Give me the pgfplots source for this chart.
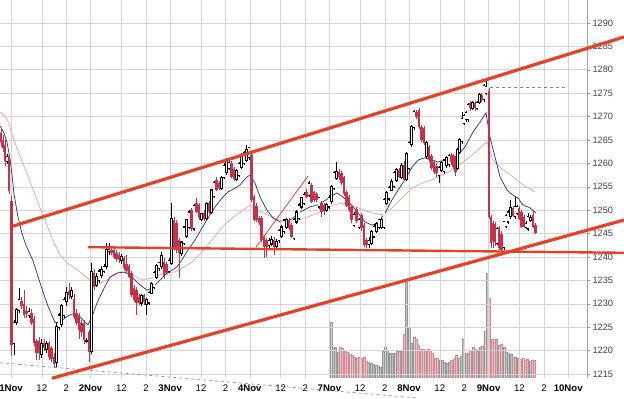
\documentclass[border=0pt]{standalone}
\usepackage{pgfplots}
\pgfplotsset{compat=1.18}
\usepackage{pgfplotstable}
\usepackage{fontspec}
\setmainfont{Liberation Sans}
\definecolor{cred}{RGB}{196,52,72}
\definecolor{tline}{RGB}{228,66,40}
\definecolor{sblue}{RGB}{40,40,140}
\definecolor{spink}{RGB}{232,172,162}
\definecolor{gridc}{RGB}{212,212,212}
\definecolor{vgray}{RGB}{196,196,196}
\definecolor{vgrayd}{RGB}{150,150,150}
\definecolor{vpink}{RGB}{240,190,198}
\definecolor{vpinkd}{RGB}{208,138,148}
\definecolor{dpurp}{RGB}{150,118,190}
\definecolor{dblue}{RGB}{120,120,200}

\pgfplotstableread{
x o h l c
1 1266.5 1267.5 1263.5 1264.5
3 1265.0 1266.0 1262.5 1263.2
5 1264.0 1265.0 1259.5 1260.5
7 1260.5 1262.0 1259.8 1261.5
9 1261.5 1262.0 1253.5 1254.2
11.5 1252.0 1253.0 1218.8 1221.2
14 1221.5 1226.5 1219.0 1226.0
16.5 1226.0 1229.0 1225.5 1228.7
19 1228.5 1233.4 1228.0 1231.0
21.5 1230.7 1231.5 1229.0 1229.6
24 1230.0 1233.0 1227.0 1227.6
26.5 1228.5 1229.5 1227.0 1227.8
29 1227.5 1229.0 1227.0 1228.4
31.5 1228.0 1228.8 1225.5 1226.0
34 1226.8 1227.5 1221.0 1221.6
36.5 1222.0 1222.5 1218.0 1219.5
39 1222.0 1223.0 1218.0 1219.5
41.5 1219.2 1222.5 1218.5 1221.6
44 1221.6 1222.5 1220.0 1220.6
46.5 1220.2 1222.0 1219.5 1221.6
49 1221.6 1222.0 1218.0 1218.6
51.5 1220.5 1221.0 1217.5 1218.2
54 1218.6 1219.5 1216.3 1217.2
56.5 1217.5 1226.0 1216.5 1225.2
59 1225.0 1228.0 1224.5 1227.6
61.5 1225.5 1230.0 1225.0 1229.7
64 1227.5 1231.5 1227.0 1231.0
66.5 1230.5 1233.5 1229.5 1232.5
69 1232.8 1234.4 1231.0 1231.8
71.5 1231.6 1233.5 1231.0 1232.8
74 1231.0 1232.0 1226.8 1227.2
76.5 1228.0 1228.8 1225.5 1226.0
79 1227.3 1228.0 1222.5 1224.5
81.5 1226.0 1226.5 1223.0 1224.0
84 1225.8 1226.5 1221.5 1222.2
86.5 1222.0 1222.8 1221.6 1222.1
89 1224.0 1224.5 1217.6 1219.8
91.5 1219.8 1238.7 1219.3 1236.8
94 1236.6 1237.5 1233.0 1233.6
96.5 1234.0 1236.5 1233.5 1235.8
99 1235.0 1237.5 1234.5 1237.0
101.5 1236.0 1238.0 1235.5 1237.4
104 1237.0 1238.5 1236.5 1238.0
106.5 1238.0 1243.0 1237.5 1241.5
109 1241.2 1243.0 1240.5 1241.6
111.5 1241.5 1242.0 1240.5 1240.8
114 1241.5 1242.0 1239.5 1240.0
116.5 1240.8 1241.5 1239.0 1239.6
119 1240.4 1241.0 1238.8 1239.4
121.5 1239.2 1240.6 1238.5 1240.0
124 1239.8 1240.2 1237.2 1237.6
126.5 1238.6 1240.5 1236.5 1237.0
129 1238.0 1238.6 1235.5 1235.7
131.5 1236.6 1237.0 1231.5 1231.9
134 1233.4 1234.0 1230.3 1230.8
136.5 1233.0 1233.5 1227.6 1230.2
139 1231.5 1232.0 1229.8 1230.2
141.5 1230.2 1232.2 1229.5 1231.8
144 1231.8 1232.2 1229.8 1230.3
146.5 1229.8 1231.3 1227.6 1231.0
149 1230.2 1232.8 1229.8 1232.5
151.5 1232.3 1234.6 1232.0 1234.4
154 1233.6 1237.0 1233.2 1236.6
156.5 1235.7 1238.5 1235.3 1238.2
159 1237.5 1239.0 1237.0 1238.8
161.5 1237.9 1241.0 1237.5 1240.4
164 1239.0 1239.8 1235.3 1235.7
166.5 1238.5 1239.0 1236.2 1236.6
169 1237.0 1239.8 1236.6 1239.2
171.5 1238.7 1251.5 1238.3 1248.3
174 1247.9 1248.6 1241.5 1242.1
176.5 1247.3 1247.8 1240.8 1241.5
179 1243.6 1244.0 1235.5 1240.8
181.5 1240.8 1243.5 1240.3 1243.2
184 1243.0 1246.6 1242.6 1246.4
186.5 1244.3 1248.2 1244.0 1247.9
189 1246.4 1250.0 1246.0 1249.6
191.5 1250.0 1250.5 1245.5 1246.0
194 1246.0 1251.3 1245.6 1251.0
196.5 1251.5 1252.5 1249.3 1249.6
199 1251.0 1251.5 1248.0 1248.4
201.5 1248.0 1249.5 1247.6 1249.3
204 1249.5 1250.0 1247.7 1248.2
206.5 1248.3 1251.8 1248.0 1251.5
209 1251.5 1252.0 1249.3 1249.6
211.5 1249.6 1254.6 1249.2 1254.3
214 1253.0 1256.3 1252.6 1256.0
216.5 1256.5 1257.0 1254.0 1254.3
219 1255.8 1256.3 1254.3 1254.8
221.5 1254.7 1257.4 1254.3 1257.0
224 1257.0 1260.0 1256.6 1259.6
226.5 1258.0 1261.2 1257.6 1260.7
229 1259.0 1260.6 1258.6 1260.2
231.5 1260.0 1260.5 1256.8 1257.2
234 1258.8 1259.3 1256.2 1256.6
236.5 1256.6 1258.8 1256.2 1258.5
239 1257.5 1260.3 1257.0 1260.0
241.5 1259.2 1262.2 1258.8 1261.8
244 1260.0 1262.6 1259.6 1262.2
246.5 1260.7 1264.0 1260.3 1262.9
249 1261.2 1263.6 1260.8 1263.3
251.5 1261.8 1262.3 1251.8 1252.2
254 1252.8 1253.3 1247.6 1247.9
256.5 1251.0 1251.5 1247.5 1248.0
259 1248.3 1248.8 1246.8 1247.2
261.5 1248.3 1248.8 1243.2 1243.6
264 1244.3 1244.8 1239.8 1242.1
266.5 1243.6 1244.0 1240.0 1242.1
269 1242.4 1244.0 1242.0 1243.6
271.5 1242.8 1244.5 1242.4 1243.8
274 1243.6 1244.2 1240.4 1242.1
276.5 1242.3 1243.8 1241.8 1243.3
279 1243.5 1246.0 1243.1 1245.7
281.5 1244.5 1246.8 1244.1 1246.4
284 1245.4 1248.2 1245.0 1247.9
286.5 1246.4 1248.3 1246.0 1247.9
289 1247.9 1248.4 1245.7 1246.2
291.5 1246.8 1247.2 1244.0 1244.3
294 1244.0 1248.3 1243.6 1248.0
296.5 1247.5 1250.0 1247.1 1249.6
299 1248.3 1251.5 1248.0 1251.1
301.5 1250.7 1252.9 1250.3 1252.6
304 1251.5 1253.8 1251.1 1253.4
306.5 1254.0 1254.5 1252.5 1252.8
309 1253.2 1256.2 1252.8 1255.8
311.5 1255.4 1255.9 1251.5 1251.8
314 1253.8 1254.2 1251.8 1252.2
316.5 1253.4 1253.8 1251.8 1252.2
319 1250.7 1252.9 1250.3 1252.6
321.5 1251.5 1252.0 1248.6 1249.6
324 1251.1 1251.5 1249.0 1249.9
326.5 1250.0 1251.6 1249.6 1251.3
329 1250.7 1253.2 1250.3 1252.8
331.5 1251.8 1255.4 1251.4 1255.0
334 1254.7 1258.3 1254.3 1258.0
336.5 1256.8 1260.3 1256.4 1258.2
339 1258.2 1258.7 1256.5 1257.0
341.5 1258.0 1258.4 1255.4 1255.8
344 1257.0 1257.4 1253.0 1253.5
346.5 1254.0 1254.4 1250.6 1251.0
349 1252.8 1253.3 1249.6 1250.0
351.5 1250.7 1251.2 1247.3 1247.9
354 1246.8 1249.6 1246.4 1249.0
356.5 1250.3 1250.7 1247.3 1247.6
359 1246.4 1248.3 1246.0 1247.9
361.5 1249.0 1249.4 1245.6 1246.2
364 1246.8 1247.3 1242.2 1242.6
366.5 1243.6 1244.0 1242.0 1242.6
369 1242.6 1244.3 1242.0 1243.6
371.5 1243.0 1245.7 1242.6 1245.4
374 1244.3 1247.0 1244.0 1246.6
376.5 1245.5 1247.5 1245.1 1247.2
379 1246.4 1248.2 1246.0 1247.9
381.5 1246.4 1248.3 1246.0 1248.0
384 1246.4 1252.6 1246.0 1252.2
386.5 1251.5 1254.0 1251.1 1253.7
389 1252.4 1255.2 1252.0 1254.9
391.5 1254.3 1256.6 1254.0 1256.2
394 1255.1 1258.4 1254.7 1258.0
396.5 1256.3 1259.0 1256.0 1258.6
399 1258.6 1259.0 1256.8 1257.2
401.5 1257.0 1260.0 1256.6 1259.6
404 1259.6 1260.5 1256.2 1256.5
406.5 1256.5 1262.5 1256.2 1262.2
409 1259.0 1264.8 1258.6 1264.4
411.5 1264.0 1268.2 1263.6 1267.8
414 1267.6 1271.4 1267.2 1271.0
416.5 1271.0 1271.4 1269.5 1270.0
419 1271.4 1271.8 1267.4 1267.8
421.5 1267.8 1268.2 1264.5 1265.0
424 1267.6 1268.0 1264.0 1264.4
426.5 1261.4 1264.8 1261.0 1264.4
429 1263.5 1264.0 1260.3 1260.7
431.5 1261.5 1262.0 1258.6 1259.0
434 1260.3 1260.7 1257.8 1258.2
436.5 1259.5 1260.0 1257.2 1258.0
439 1257.5 1259.5 1255.8 1259.2
441.5 1258.5 1260.5 1258.1 1260.2
444 1258.2 1261.0 1257.8 1260.7
446.5 1259.5 1261.6 1259.1 1261.2
449 1259.7 1262.0 1259.3 1261.6
451.5 1261.8 1262.2 1259.7 1260.2
453.5 1261.6 1262.0 1258.8 1259.2
455.5 1261.0 1261.5 1257.4 1258.2
457.5 1259.0 1263.4 1258.6 1263.0
459.5 1262.4 1265.4 1262.0 1265.0
462 1264.6 1271.0 1264.2 1269.5
464 1268.5 1270.5 1268.1 1270.2
466 1269.3 1271.2 1268.9 1270.8
468 1269.3 1272.8 1268.9 1272.5
470.5 1273.0 1273.4 1271.2 1271.8
472.5 1271.8 1273.4 1271.4 1273.0
475 1273.0 1273.4 1271.2 1271.8
477 1271.8 1273.4 1271.4 1273.0
479.5 1273.1 1275.0 1272.7 1274.6
481.5 1274.6 1275.0 1273.2 1273.6
484 1273.6 1277.0 1273.2 1276.7
486 1275.0 1277.8 1274.6 1276.5
489 1275.5 1276.0 1248.2 1248.6
491 1248.6 1249.0 1242.0 1243.0
493 1247.2 1247.6 1242.0 1243.4
495 1247.0 1247.5 1242.4 1243.2
497 1243.0 1246.5 1242.6 1246.0
499 1246.3 1246.7 1241.6 1242.0
501.5 1245.0 1245.5 1241.0 1241.5
504 1242.0 1247.8 1241.5 1247.5
506 1246.6 1249.3 1246.2 1248.8
508 1247.5 1250.0 1247.1 1249.6
510.5 1248.6 1252.2 1248.2 1250.5
513 1250.4 1250.8 1248.5 1248.8
515 1248.6 1252.8 1248.2 1250.8
517 1249.4 1251.2 1249.0 1250.8
519 1250.4 1250.8 1247.8 1248.1
521.5 1249.6 1250.0 1246.1 1246.4
524 1248.6 1249.0 1246.1 1246.4
526 1246.4 1247.6 1246.0 1247.2
528 1246.0 1249.4 1245.6 1248.6
530.5 1247.8 1249.0 1247.4 1248.5
533 1249.0 1250.0 1246.1 1246.4
535.5 1246.8 1247.2 1245.0 1245.1
}\candles

\pgfplotstableread{
x v p
330.7 56 0
333.1 30 0
335.4 31 0
337.8 26 0
340.2 31 1
342.6 30 1
344.9 28 1
347.3 26 1
349.7 24 1
352.0 23 1
354.4 21 0
356.8 20 1
359.1 21 0
361.5 20 1
363.9 21 1
366.3 17 1
368.6 16 0
371.0 15 0
373.4 14 0
375.7 13 0
378.1 12 0
380.5 11 0
382.8 27 0
385.2 31 0
387.6 28 0
390.0 25 0
392.3 25 0
394.7 25 0
397.1 27 0
399.4 27 1
401.8 27 0
404.2 44 1
406.5 96 0
408.9 51 0
411.3 35 0
413.7 41 0
416.0 39 1
418.4 33 1
420.8 29 1
423.1 29 1
425.5 28 0
427.9 29 1
430.2 28 1
432.6 25 1
435.0 20 1
437.3 20 1
439.7 18 0
442.1 18 0
444.5 16 0
446.8 15 0
449.2 16 0
451.6 18 1
453.9 19 1
456.3 23 1
458.7 20 0
461.0 22 0
463.4 39 0
465.8 25 0
468.1 25 0
470.5 28 1
472.9 31 0
475.3 29 1
477.6 27 0
480.0 31 0
482.4 32 1
484.7 47 0
487.1 105 0
489.5 80 1
491.9 39 1
494.2 36 1
496.6 39 0
499.0 33 1
501.3 34 1
503.7 31 0
506.1 26 0
508.4 25 0
510.8 24 0
513.2 21 1
515.6 21 0
517.9 20 0
520.3 19 1
522.7 20 1
525.0 18 1
527.4 19 0
529.8 17 0
532.1 18 1
534.5 18 1
}\vol

\pgfplotsset{
  cbar/.style n args={2}{draw=none, mark=none, forget plot,
    error bars/.cd, y dir=both, y explicit, error mark=none,
    error bar style={draw=#1, line width=#2, line cap=butt, solid}},
}

\begin{document}
\begin{tikzpicture}
% volume (own scale, clipped to the plot area)
\begin{axis}[at={(0pt,21pt)}, anchor=south west, width=587pt, height=378pt,
  scale only axis, xmin=0, xmax=587, ymin=0, ymax=378, hide axis]
\addplot[ybar, bar width=2.0pt, bar shift=0pt, fill=vgray, draw=vgrayd, line width=0.35pt,
  restrict expr to domain={\thisrow{p}}{-0.5:0.5}] table[x=x, y=v] {\vol};
\addplot[ybar, bar width=2.0pt, bar shift=0pt, fill=vpink, draw=vpinkd, line width=0.35pt,
  restrict expr to domain={\thisrow{p}}{0.5:1.5}] table[x=x, y=v] {\vol};
\end{axis}
% prices
\begin{axis}[at={(0pt,21pt)}, anchor=south west, width=587pt, height=378pt,
  scale only axis, clip=false,
  xmin=0, xmax=587, ymin=1214.15, ymax=1294.9,
  axis line style={draw=none},
  xtick={11,41.8,66.4,90.6,121.4,146.0,170.2,201.0,225.6,249.8,280.6,305.2,329.4,360.2,384.8,409.0,439.8,464.4,488.6,519.4,544.0,568.2},
  xticklabels={\textbf{1Nov},12,2,\textbf{2Nov},12,2,\textbf{3Nov},12,2,\textbf{4Nov},12,2,\textbf{7Nov},12,2,\textbf{8Nov},12,2,\textbf{9Nov},12,2,\textbf{10Nov}},
  ytick={1215,1220,...,1290},
  yticklabel pos=right,
  grid=major, major grid style={draw=gridc, line width=0.5pt},
  tick align=outside, major tick length=3pt,
  xtick style={draw=none},
  ytick style={draw=black!45, line width=0.4pt},
  /pgf/number format/assume math mode=true, /pgf/number format/1000 sep={},
  yticklabel style={anchor=west, text=black!75, xshift=-1pt, font=\fontsize{9.2}{10}\selectfont},
  xticklabel style={text=black, font=\fontsize{9.6}{11}\selectfont},
]
\draw[black!35, line width=0.5pt] (rel axis cs:1,0) -- (rel axis cs:1,1);
% dashed guide lines
\addplot[dpurp, dashed, line width=0.6pt, forget plot] coordinates {(0,1217.4) (417,1209.9)};
\addplot[dblue, dashed, line width=0.5pt, forget plot] coordinates {(490,1276.3) (567,1276.3)};
% moving averages
\addplot[spink, line width=0.8pt, forget plot] coordinates {
(0,1271.0) (5,1270.2) (9,1268.5) (13,1265.5) (20,1261.5) (27,1257.8) (33,1254.5) (40,1250.5)
(47,1246.8) (53,1243.5) (60,1240.5) (67,1238.7) (73,1237.9) (80,1236.8) (87,1235.5) (92,1234.6)
(100,1234.4) (107,1235.1) (113,1236.2) (120,1236.8) (128,1236.6) (142,1235.1) (152,1235.5)
(165,1236.6) (175,1236.8) (182,1237.6) (192,1238.9) (202,1241.1) (212,1243.6) (222,1246.4)
(232,1248.3) (243,1250.0) (250,1251.1) (257,1250.0) (267,1249.0) (280,1247.9) (293,1247.5)
(307,1248.5) (320,1249.6) (333,1251.1) (343,1251.5) (350,1251.1) (358,1250.5) (372,1249.4)
(382,1249.0) (392,1250.5) (402,1252.6) (412,1254.7) (422,1255.8) (432,1256.5) (442,1257.5)
(452,1258.6) (462,1260.1) (470,1261.4) (480,1263.3) (487,1264.6) (493,1260.7) (503,1258.6)
(513,1257.1) (523,1255.4) (535,1253.9)};
\addplot[sblue, line width=0.7pt, forget plot] coordinates {
(0,1268.0) (4,1266.5) (7,1264.5) (10,1261.0) (12,1257.5) (14,1253.5) (18,1248.5) (22,1245.0)
(26,1242.5) (33,1239.2) (37,1236.5) (43,1232.5) (48,1229.5) (55,1226.0) (60,1226.0) (65,1227.0)
(70,1227.6) (75,1228.0) (80,1227.2) (85,1226.1) (88,1225.5) (92,1227.2) (97,1230.2) (103,1232.9)
(110,1235.7) (118,1236.6) (125,1236.8) (132,1235.7) (138,1234.4) (147,1232.9) (152,1233.4)
(158,1234.6) (165,1236.2) (172,1237.2) (177,1237.9) (182,1239.4) (188,1241.5) (195,1243.6)
(202,1246.2) (208,1248.3) (215,1250.7) (222,1252.6) (228,1253.9) (235,1254.7) (240,1255.4)
(247,1257.1) (250,1257.5) (255,1255.8) (260,1252.8) (267,1250.0) (273,1248.3) (280,1247.5)
(287,1247.5) (293,1248.3) (300,1249.6) (310,1250.7) (317,1251.1) (323,1251.8) (330,1252.8)
(337,1253.7) (343,1252.8) (350,1251.5) (358,1249.4) (365,1247.5) (372,1246.8) (378,1247.3)
(385,1249.4) (392,1252.2) (398,1254.3) (405,1256.5) (412,1259.2) (418,1260.7) (425,1261.2)
(432,1260.7) (438,1260.3) (445,1260.7) (452,1261.2) (458,1261.8) (465,1263.5) (473,1266.7)
(480,1268.8) (486,1270.8) (490,1265.6) (495,1261.4) (500,1257.1) (507,1254.3) (513,1253.2)
(518,1252.6) (523,1251.1) (530,1250.5) (536,1249.4)};
% candles: wicks
\addplot[cbar={cred}{0.7pt}] table[x=x, y expr={(\thisrow{h}+\thisrow{l})/2},
  y error expr={(\thisrow{c}<\thisrow{o})*(\thisrow{h}-\thisrow{l})/2}] {\candles};
\addplot[cbar={black}{0.7pt}] table[x=x, y expr={(\thisrow{h}+\thisrow{l})/2},
  y error expr={(1-(\thisrow{c}<\thisrow{o}))*(\thisrow{h}-\thisrow{l})/2}] {\candles};
% candles: bodies
\addplot[cbar={cred}{2.5pt}] table[x=x, y expr={(\thisrow{o}+\thisrow{c})/2},
  y error expr={(\thisrow{c}<\thisrow{o})*(\thisrow{o}-\thisrow{c})/2}] {\candles};
\addplot[cbar={black}{2.6pt}] table[x=x, y expr={(\thisrow{o}+\thisrow{c})/2},
  y error expr={(1-(\thisrow{c}<\thisrow{o}))*((\thisrow{c}-\thisrow{o})/2+0.13)}] {\candles};
\addplot[cbar={white}{1.1pt}] table[x=x, y expr={(\thisrow{o}+\thisrow{c})/2},
  y error expr={(1-(\thisrow{c}<\thisrow{o}))*max((\thisrow{c}-\thisrow{o})/2-0.1,0)}] {\candles};
% trend lines
\addplot[tline, line width=3.2pt, forget plot] coordinates {(13,1246.6) (624,1287.0)};
\addplot[tline, line width=3.2pt, forget plot] coordinates {(52,1214.1) (624,1247.9)};
\addplot[tline, line width=2.4pt, forget plot] coordinates {(88,1242.1) (624,1240.9)};
\addplot[tline, line width=0.8pt, forget plot] coordinates {(256,1242.1) (308,1257.3)};
\end{axis}
\pgfresetboundingbox
\path (0,0) rectangle (624pt,399pt);
\end{tikzpicture}
\end{document}
